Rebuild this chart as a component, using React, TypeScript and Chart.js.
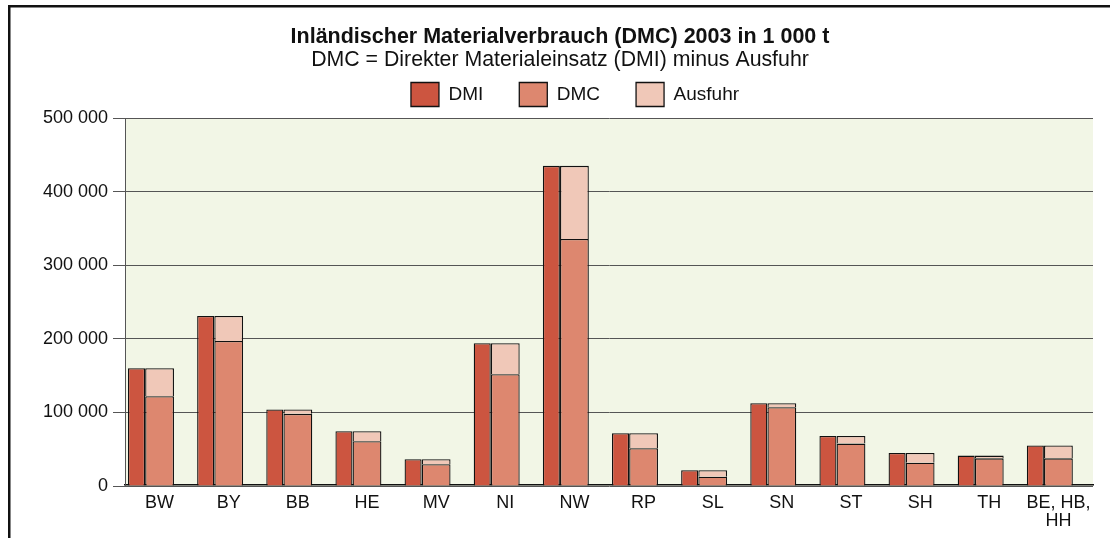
import React, { useEffect, useRef } from "react";
import { Chart, registerables } from "chart.js";

Chart.register(...registerables);

const categories: (string | string[])[] = [
  "BW", "BY", "BB", "HE", "MV", "NI", "NW", "RP", "SL", "SN", "ST", "SH", "TH", ["BE, HB,", "HH"],
];
const dmiValues = [160000, 231000, 104000, 74500, 36300, 194000, 435000, 71700, 21300, 112500, 68000, 45000, 41300, 55000];
const dmcValues = [122000, 197000, 98000, 60800, 29500, 152000, 335500, 51300, 12700, 107000, 57600, 31700, 37600, 37600];
const ausfuhrValues = [38000, 34000, 6000, 13700, 6800, 42000, 99500, 20400, 8600, 5500, 10400, 13300, 3700, 17400];
const yTicks = [0, 100000, 200000, 300000, 400000, 500000];

const titleText = "Inländischer Materialverbrauch (DMC) 2003 in 1 000 t";
const subtitleText = "DMC = Direkter Materialeinsatz (DMI) minus Ausfuhr";

const FONT = "'Liberation Sans', Arial, Helvetica, sans-serif";

const fmt = (v: number) => String(v).replace(/\B(?=(\d{3})+(?!\d))/g, " ");

const framePlugin = {
  id: "frameAndBg",
  beforeDraw(chart: any) {
    const { ctx, chartArea } = chart;
    ctx.save();
    ctx.fillStyle = "#ffffff";
    ctx.fillRect(0, 0, chart.width, chart.height);
    ctx.fillStyle = "#f2f6e6";
    ctx.fillRect(chartArea.left, chartArea.top, chartArea.right - chartArea.left, chartArea.bottom - chartArea.top);
    ctx.fillStyle = "#111111";
    ctx.fillRect(8, 5, chart.width - 8, 2.5);
    ctx.fillRect(8, 5, 2.5, chart.height - 5);
    ctx.restore();
  },
  afterLayout(chart: any) {
    const lg = chart.legend;
    if (lg) {
      lg.left += 15;
      lg.right += 15;
    }
  },
};

export default function App() {
  const ref = useRef<HTMLCanvasElement | null>(null);

  useEffect(() => {
    if (!ref.current) return;
    const chart = new Chart(ref.current, {
      type: "bar",
      data: {
        labels: categories,
        datasets: [
          {
            label: "DMI",
            data: dmiValues,
            backgroundColor: "#cc5540",
            borderColor: "#111111",
            borderWidth: 1.3,
            stack: "a",
            barPercentage: 0.74,
            categoryPercentage: 1,
          },
          {
            label: "DMC",
            data: dmcValues,
            backgroundColor: "#dd876f",
            borderColor: "#111111",
            borderWidth: 1.3,
            stack: "b",
            barPercentage: 1.25,
            categoryPercentage: 1,
          },
          {
            label: "Ausfuhr",
            data: ausfuhrValues,
            backgroundColor: "#f0c8b8",
            borderColor: "#111111",
            borderWidth: 1.3,
            stack: "b",
            barPercentage: 1.25,
            categoryPercentage: 1,
          },
          {
            label: "",
            data: categories.map(() => null),
            backgroundColor: "rgba(0,0,0,0)",
            borderWidth: 0,
            stack: "c",
            categoryPercentage: 1,
          },
        ],
      },
      options: {
        responsive: false,
        animation: false,
        events: [],
        layout: { padding: { left: 27, right: 17, top: 0, bottom: 0 } },
        plugins: {
          title: {
            display: true,
            text: titleText,
            color: "#111111",
            font: { family: FONT, size: 21.5, weight: "bold", lineHeight: 1 },
            padding: { top: 24, bottom: 0 },
          },
          subtitle: {
            display: true,
            text: subtitleText,
            color: "#111111",
            font: { family: FONT, size: 21.3, lineHeight: 1 },
            padding: { top: 1.85, bottom: -24.65 },
          },
          legend: {
            display: true,
            position: "top",
            labels: {
              boxWidth: 28,
              boxHeight: 24,
              padding: 36,
              color: "#111111",
              font: { family: FONT, size: 19 },
              filter: (item: any) => item.datasetIndex < 3,
            },
          },
          tooltip: { enabled: false },
        },
        scales: {
          x: {
            type: "category",
            offset: true,
            grid: { display: false },
            border: { display: true, color: "#111111", width: 1.5 },
            ticks: {
              color: "#111111",
              font: { family: FONT, size: 18, lineHeight: 1 },
              maxRotation: 0,
              autoSkip: false,
              padding: 2,
            },
            afterFit: (s: any) => {
              s.height = 52;
            },
          },
          y: {
            type: "linear",
            stacked: true,
            min: 0,
            max: 500000,
            afterBuildTicks: (s: any) => {
              s.ticks = yTicks.map((v) => ({ value: v }));
            },
            grid: {
              color: "#555555",
              lineWidth: 1,
              drawTicks: true,
              tickLength: 12,
              tickColor: "#555555",
            },
            border: { display: true, color: "#555555", width: 1 },
            ticks: {
              color: "#111111",
              font: { family: FONT, size: 18 },
              padding: 5,
              callback: (v: any) => fmt(Number(v)),
            },
            afterFit: (s: any) => {
              s.width = 98;
              s.paddingTop = 118;
            },
          },
        },
      },
      plugins: [framePlugin],
    } as any);
    return () => chart.destroy();
  }, []);

  return (
    <div style={{ position: "absolute", left: 0, top: 0, width: 1110, height: 538, background: "#fff" }}>
      <canvas ref={ref} width={1110} height={538} style={{ display: "block" }} />
    </div>
  );
}
